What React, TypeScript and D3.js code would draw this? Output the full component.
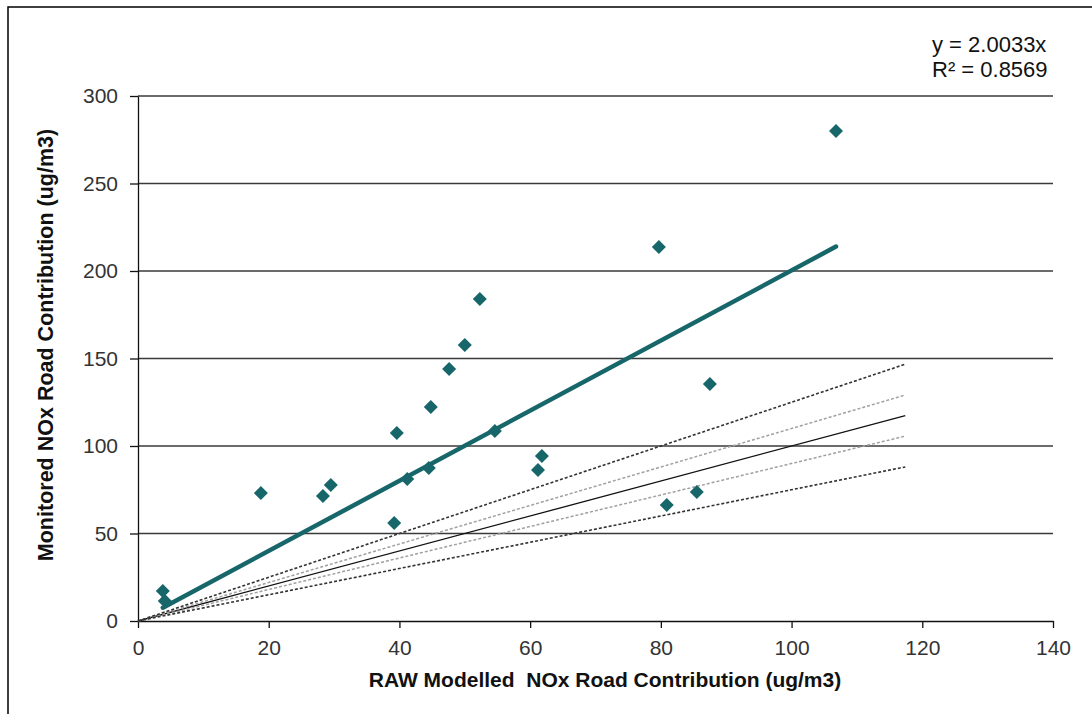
import React, { useEffect, useRef } from 'react';
import * as d3 from 'd3';

// modelled (x) vs monitored (y) NOx road contribution
const modelled = [3.8, 4.1, 18.8, 28.3, 29.5, 39.2, 39.6, 41.2, 44.5, 44.8, 47.6, 50.0, 52.3, 54.6, 61.2, 61.8, 79.7, 80.9, 85.5, 87.5, 106.8];
const monitored = [17.1, 11.5, 73.1, 71.4, 77.7, 56, 107.4, 81.1, 87.4, 122.3, 144, 157.7, 184, 108.6, 86.3, 94.3, 213.7, 66.3, 73.7, 135.4, 280];

const xTicks = [0, 20, 40, 60, 80, 100, 120, 140];
const yTicks = [0, 50, 100, 150, 200, 250, 300];

const slope = 2.0033;
const rSquared = '0.8569';
const refLineEnd = 117.4;
// 1:1 line with +/-10% and +/-25% bands
const refFactors = [1, 1.1, 0.9, 1.25, 0.75];

export default function App() {
  const ref = useRef<SVGSVGElement>(null);

  useEffect(() => {
    const svg = d3.select(ref.current);
    svg.selectAll('*').remove();

    const margin = { left: 138, top: 96, right: 39, bottom: 93 };
    const width = 1092, height = 714;
    const x = d3.scaleLinear().domain([0, 140]).range([margin.left, width - margin.right]);
    const y = d3.scaleLinear().domain([0, 300]).range([height - margin.bottom, margin.top]);
    const font = 'Liberation Sans, Arial, sans-serif';
    const teal = '#17666a';

    svg.append('rect')
      .attr('x', 8).attr('y', 7)
      .attr('width', 1200).attr('height', 800)
      .attr('fill', 'white').attr('stroke', 'black').attr('stroke-width', 1.5);

    // gridlines
    svg.append('g').selectAll('line').data(yTicks.filter(d => d > 0)).enter().append('line')
      .attr('x1', x(0)).attr('x2', x(140))
      .attr('y1', d => y(d)).attr('y2', d => y(d))
      .attr('stroke', '#3a3a3a').attr('stroke-width', 1.5);

    // axes
    const xAxis = svg.append('g').attr('transform', `translate(0, ${y(0)})`)
      .call(d3.axisBottom(x).tickValues(xTicks).tickSize(7).tickPadding(12).tickSizeOuter(0));
    const yAxis = svg.append('g').attr('transform', `translate(${x(0)}, 0)`)
      .call(d3.axisLeft(y).tickValues(yTicks).tickSize(8).tickPadding(12).tickSizeOuter(0));
    [xAxis, yAxis].forEach(a => {
      a.select('.domain').attr('stroke', '#111').attr('stroke-width', 1.3);
      a.selectAll('.tick line').attr('stroke', '#111').attr('stroke-width', 1.3);
      a.selectAll('.tick text').attr('font-family', font).attr('font-size', 21).attr('fill', '#333');
    });

    // reference lines
    const refStyle: Record<number, [string, string, number]> = {
      1: ['#111', 'none', 1.3],
      1.1: ['#a0a0a0', '3,2', 1.5],
      0.9: ['#a0a0a0', '3,2', 1.5],
      1.25: ['#333', '3,2', 1.6],
      0.75: ['#333', '3,2', 1.6],
    };
    svg.append('g').selectAll('line').data(refFactors).enter().append('line')
      .attr('x1', x(0)).attr('y1', y(0))
      .attr('x2', x(refLineEnd)).attr('y2', d => y(refLineEnd * d))
      .attr('stroke', d => refStyle[d][0])
      .attr('stroke-dasharray', d => refStyle[d][1])
      .attr('stroke-width', d => refStyle[d][2]);

    // points
    const pts = modelled.map((m, i) => [m, monitored[i]]);
    svg.append('g').selectAll('path').data(pts).enter().append('path')
      .attr('d', d3.symbol().type(d3.symbolDiamond2).size(125)())
      .attr('transform', d => `translate(${x(d[0])}, ${y(d[1])})`)
      .attr('fill', teal);

    // trendline y = slope * x
    const xMin = d3.min(modelled) as number, xMax = d3.max(modelled) as number;
    svg.append('line')
      .attr('x1', x(xMin)).attr('y1', y(slope * xMin))
      .attr('x2', x(xMax)).attr('y2', y(slope * xMax))
      .attr('stroke', teal).attr('stroke-width', 4.5).attr('stroke-linecap', 'round');

    // equation
    const eq = svg.append('text').attr('font-family', font).attr('font-size', 22).attr('fill', '#111');
    eq.append('tspan').attr('x', 932).attr('y', 52).text(`y = ${slope.toFixed(4)}x`);
    eq.append('tspan').attr('x', 932).attr('y', 77).text(`R² = ${rSquared}`);

    // titles
    svg.append('text')
      .attr('x', 605).attr('y', 687).attr('text-anchor', 'middle')
      .attr('font-family', font).attr('font-size', 21).attr('font-weight', 'bold').attr('fill', '#111')
      .attr('xml:space', 'preserve')
      .text('RAW Modelled  NOx Road Contribution (ug/m3)');
    svg.append('text')
      .attr('transform', `translate(53, 345) rotate(-90)`).attr('text-anchor', 'middle')
      .attr('font-family', font).attr('font-size', 21.5).attr('font-weight', 'bold').attr('fill', '#111')
      .text('Monitored NOx Road Contribution (ug/m3)');
  }, []);

  return (
    <svg ref={ref} width={1092} height={714}
      style={{ position: 'absolute', left: 0, top: 0, display: 'block', background: 'white' }} />
  );
}
